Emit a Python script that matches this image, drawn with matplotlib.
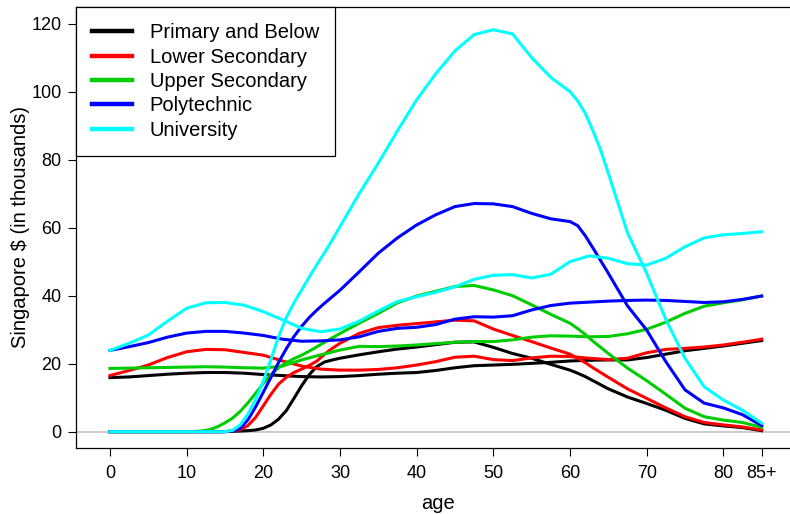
import matplotlib
matplotlib.use('Agg')
import matplotlib.pyplot as plt

plt.rcParams['font.family'] = ['Liberation Sans', 'DejaVu Sans']

# groups and R-style colours
groups = ['Primary and Below', 'Lower Secondary', 'Upper Secondary', 'Polytechnic', 'University']
colors = ['black', '#FF0000', '#00CD00', '#0000FF', '#00FFFF']

# consumption profiles (start above zero at age 0)
age_cons = [0, 2.5, 5, 7.5, 10, 12.5, 15, 17.5, 20, 22.5, 25, 27.5, 30, 32.5, 35, 37.5, 40, 42.5,
            45, 47.5, 50, 52.5, 55, 57.5, 60, 62.5, 65, 67.5, 70, 72.5, 75, 77.5, 80, 82.5, 85]
primary_cons = [15.9, 16.1, 16.5, 16.9, 17.2, 17.4, 17.4, 17.2, 16.8, 16.5, 16.2, 16.1, 16.2, 16.5,
                16.9, 17.2, 17.4, 18.0, 18.8, 19.4, 19.6, 19.8, 20.1, 20.4, 20.8, 21.0, 21.1, 21.1,
                21.8, 22.8, 23.8, 24.5, 25.2, 26.0, 26.8]
lower_cons = [16.5, 18.0, 19.6, 21.8, 23.5, 24.2, 24.1, 23.3, 22.5, 20.8, 19.3, 18.4, 18.1, 18.1,
              18.3, 18.8, 19.6, 20.6, 21.9, 22.2, 21.2, 20.9, 21.7, 22.2, 22.1, 21.6, 21.2, 21.6,
              23.2, 24.2, 24.5, 24.9, 25.5, 26.3, 27.2]
upper_cons = [18.6, 18.7, 18.8, 18.9, 19.0, 19.1, 19.0, 18.8, 18.7, 19.3, 21.1, 22.6, 24.0, 25.1,
              25.0, 25.2, 25.5, 25.9, 26.3, 26.5, 26.5, 27.0, 27.8, 28.2, 28.1, 27.9, 28.0, 28.8,
              30.1, 32.2, 34.8, 36.9, 37.9, 38.8, 39.9]
poly_cons = [23.9, 25.0, 26.2, 27.8, 29.0, 29.5, 29.5, 29.0, 28.3, 27.2, 26.6, 26.7, 27.0, 27.9,
             29.5, 30.4, 30.7, 31.5, 33.1, 33.8, 33.7, 34.1, 35.8, 37.1, 37.8, 38.1, 38.4, 38.6,
             38.7, 38.6, 38.3, 38.0, 38.2, 38.9, 39.9]
univ_cons = [23.9, 26.0, 28.4, 32.5, 36.3, 37.9, 38.0, 37.2, 35.3, 32.9, 30.4, 29.4, 30.2, 32.5,
             35.5, 38.3, 39.7, 41.0, 42.6, 44.8, 46.0, 46.2, 45.2, 46.3, 50.0, 51.7, 51.0, 49.4,
             49.0, 51.0, 54.4, 57.0, 57.9, 58.3, 58.8]

# labour income profiles (zero in childhood)
age_inc = [0, 5, 10, 11, 12, 13, 14, 15, 16, 17, 18, 19, 20, 21, 22, 23, 24, 25, 26, 27, 28, 29, 30,
           32.5, 35, 37.5, 40, 42.5, 45, 47.5, 50, 52.5, 55, 57.5, 60, 61, 62, 63, 64, 65,
           67.5, 70, 72.5, 75, 77.5, 80, 82.5, 85]
primary_inc = [0, 0, 0, 0, 0, 0, 0, 0.05, 0.1, 0.2, 0.3, 0.5, 1.0, 2.0, 3.7, 6.2, 9.8, 13.5, 16.8,
               19.2, 20.5, 21.1, 21.6, 22.6, 23.5, 24.3, 24.9, 25.6, 26.3, 26.4, 24.8, 23.0, 21.6,
               19.8, 18.1, 17.2, 16.2, 15.0, 13.8, 12.6, 10.2, 8.3, 6.3, 3.9, 2.3, 1.7, 1.2, 0.3]
lower_inc = [0, 0, 0, 0, 0, 0, 0, 0, 0.2, 0.6, 1.8, 4.2, 7.6, 11.0, 14.0, 16.0, 17.4, 18.4, 19.5,
             20.8, 22.8, 24.5, 26.0, 28.9, 30.6, 31.3, 31.8, 32.3, 32.8, 32.6, 30.2, 28.3, 26.5,
             24.6, 22.8, 21.6, 20.3, 18.8, 17.4, 16.0, 12.6, 9.8, 7.0, 4.4, 2.7, 2.0, 1.4, 0.5]
upper_inc = [0, 0, 0, 0.05, 0.2, 0.6, 1.4, 2.6, 4.0, 6.0, 8.5, 11.3, 14.2, 16.8, 18.8, 20.3, 21.5,
             22.5, 23.7, 25.0, 26.3, 27.6, 28.9, 31.9, 34.8, 37.9, 39.9, 41.3, 42.7, 43.0, 41.7,
             40.0, 37.3, 34.5, 31.9, 30.3, 28.6, 26.6, 24.8, 23.0, 18.7, 15.0, 11.0, 6.9, 4.4,
             3.4, 2.7, 1.3]
poly_inc = [0, 0, 0, 0, 0, 0, 0, 0, 0.2, 1.0, 3.5, 7.3, 11.6, 16.0, 20.4, 24.4, 28.0, 31.0, 33.6,
            35.8, 37.8, 39.7, 41.6, 47.0, 52.5, 57.0, 60.8, 63.8, 66.2, 67.1, 67.0, 66.2, 64.2,
            62.6, 61.8, 60.6, 57.6, 54.0, 50.3, 46.6, 37.0, 29.9, 20.6, 12.3, 8.4, 7.0, 5.0, 1.8]
univ_inc = [0, 0, 0, 0, 0, 0, 0, 0, 0.4, 2.0, 5.2, 9.5, 14.8, 21.3, 28.0, 33.6, 37.9, 41.7, 45.5,
            49.2, 52.7, 56.4, 60.3, 70.0, 79.0, 88.5, 97.6, 105.3, 112.0, 116.8, 118.2, 117.0,
            110.0, 104.2, 100.0, 97.3, 93.6, 88.5, 82.8, 76.0, 58.5, 46.6, 33.0, 21.6, 13.2, 9.3,
            6.3, 2.5]

xticks = [0, 10, 20, 30, 40, 50, 60, 70, 80, 85]
xticklabels = ['0', '10', '20', '30', '40', '50', '60', '70', '80', '85+']
yticks = [0, 20, 40, 60, 80, 100, 120]

cons = [primary_cons, lower_cons, upper_cons, poly_cons, univ_cons]
inc = [primary_inc, lower_inc, upper_inc, poly_inc, univ_inc]

fig = plt.figure(figsize=(7.9, 5.14), dpi=100)
# right edge runs past the canvas, as in the cropped original
ax = fig.add_axes([76 / 790, 66 / 514, 724 / 790, 441 / 514])

ax.axhline(0, color='#cccccc', lw=1.4, zorder=1)
for c_vals, i_vals, col in zip(cons, inc, colors):
    ax.plot(age_cons, c_vals, color=col, lw=2.2, solid_joinstyle='round', zorder=2)
    ax.plot(age_inc, i_vals, color=col, lw=2.2, solid_joinstyle='round', zorder=2)

ax.set_xlim(-4.43, 90.0)
ax.set_ylim(-4.8, 124.9)
ax.set_xticks(xticks)
ax.set_xticklabels(xticklabels)
ax.set_yticks(yticks)
ax.tick_params(axis='both', direction='out', length=5.5, width=0.8, labelsize=13)
ax.tick_params(axis='x', pad=7)
ax.tick_params(axis='y', pad=5)
for sp in ax.spines.values():
    sp.set_linewidth(0.9)
ax.spines['right'].set_visible(False)

ax.set_xlabel('age', fontsize=14.5, labelpad=8.5)
ax.set_ylabel(r'Singapore \$ (in thousands)', fontsize=14.5, labelpad=1)

handles = [plt.Line2D([], [], color=col, lw=3.2) for col in colors]
leg = ax.legend(handles, groups, loc='upper left', fontsize=14.5, frameon=True, fancybox=False,
                borderaxespad=0, handlelength=2.0, handletextpad=0.85, labelspacing=0.27,
                borderpad=0.8)
leg.get_frame().set_edgecolor('black')
leg.get_frame().set_linewidth(0.9)
leg.get_frame().set_alpha(1)

fig.savefig('out.png', dpi=100)
